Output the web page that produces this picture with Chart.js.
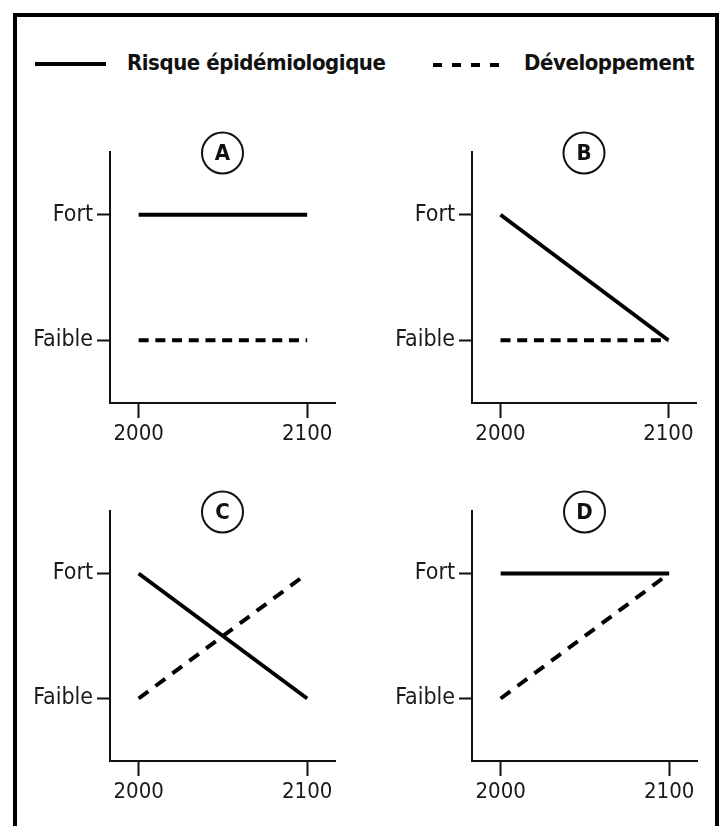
<!DOCTYPE html>
<html>
<head>
<meta charset="utf-8">
<script src="https://cdn.jsdelivr.net/npm/chart.js@4.4.1/dist/chart.umd.min.js"></script>
<style>
  html, body { margin: 0; padding: 0; background: #fff; overflow: hidden; }
  body { width: 725px; height: 826px; position: relative; }
  #frame { position: absolute; left: 13px; top: 13px; width: 698px; height: 900px;
           border-left: 4px solid #000; border-top: 4px solid #000; border-right: 4px solid #000; z-index: 5; }
  canvas { position: absolute; }
  .lg-text { position: absolute; font-family: 'DejaVu Sans Condensed', 'Liberation Sans Narrow', 'Arial Narrow', sans-serif;
             font-weight: bold; font-size: 22px; letter-spacing: -0.45px; color: #111; line-height: 30px; white-space: nowrap; }
  .lg-solid { position: absolute; height: 4px; background: #000; }
  .lg-dash { position: absolute; height: 4px;
             background: repeating-linear-gradient(to right, #000 0 9px, transparent 9px 19px); }
</style>
</head>
<body>
<div id="frame"></div>
<div class="lg-solid" style="left:35px; top:62px; width:71px;"></div>
<div class="lg-text" id="lg1" style="left:127px; top:48px;"></div>
<div class="lg-dash" style="left:433px; top:63px; width:67px;"></div>
<div class="lg-text" id="lg2" style="left:524px; top:48px;"></div>
<canvas id="cA"></canvas>
<canvas id="cB"></canvas>
<canvas id="cC"></canvas>
<canvas id="cD"></canvas>
<script>
// ---- data ----
const years = [2000, 2100];
const levelValues = [0, 1];
const levelLabels = ['Faible', 'Fort'];
const seriesNames = ['Risque épidémiologique', 'Développement'];
const panelLetters = ['A', 'B', 'C', 'D'];
const riskA = [1, 1];
const devA  = [0, 0];
const riskB = [1, 0];
const devB  = [0, 0];
const riskC = [1, 0];
const devC  = [0, 1];
const riskD = [1, 1];
const devD  = [0, 1];

document.getElementById('lg1').textContent = seriesNames[0];
document.getElementById('lg2').textContent = seriesNames[1];

const FONT = "'DejaVu Sans Condensed', 'Liberation Sans Narrow', 'Arial Narrow', sans-serif";

const circleLetter = {
  id: 'circleLetter',
  afterDraw(chart, args, opts) {
    const { ctx, chartArea } = chart;
    const cx = (chartArea.left + chartArea.right) / 2;
    const cy = chartArea.top + 1;
    ctx.save();
    ctx.beginPath();
    ctx.arc(cx, cy, 20.5, 0, Math.PI * 2);
    ctx.lineWidth = 2;
    ctx.strokeStyle = '#111';
    ctx.fillStyle = '#fff';
    ctx.fill();
    ctx.stroke();
    ctx.fillStyle = '#111';
    ctx.font = 'bold 22px ' + FONT;
    ctx.textAlign = 'center';
    ctx.textBaseline = 'middle';
    ctx.fillText(opts.letter, cx, cy + 1);
    ctx.restore();
  }
};

function makePanel(id, letter, risk, dev, area, devDash) {
  const canvas = document.getElementById(id);
  const cLeft = area.left - 90, cTop = area.top - 32;
  const cW = area.colW, cH = 340;
  canvas.width = cW; canvas.height = cH;
  canvas.style.left = cLeft + 'px'; canvas.style.top = cTop + 'px';
  canvas.style.width = cW + 'px'; canvas.style.height = cH + 'px';
  const padRight = cLeft + cW - area.right;
  const xAxisH = cTop + cH - area.bottom;
  new Chart(canvas, {
    type: 'line',
    data: {
      datasets: [
        { label: seriesNames[0], data: years.map((x, i) => ({ x, y: risk[i] })),
          borderColor: '#000', borderWidth: 4, borderCapStyle: 'butt', pointRadius: 0, tension: 0, fill: false },
        { label: seriesNames[1], data: years.map((x, i) => ({ x, y: dev[i] })),
          borderColor: '#000', borderWidth: 4, borderCapStyle: 'butt', borderDash: devDash, pointRadius: 0, tension: 0, fill: false }
      ]
    },
    options: {
      responsive: false,
      animation: false,
      devicePixelRatio: 1,
      layout: { padding: { top: 32, right: padRight, left: 0, bottom: 0 } },
      plugins: {
        legend: { display: false },
        tooltip: { enabled: false },
        title: { display: false },
        circleLetter: { letter }
      },
      scales: {
        x: {
          type: 'linear', min: 1983, max: 2116.5,
          afterBuildTicks: s => { s.ticks = years.map(v => ({ value: v })); },
          afterFit: s => { s.height = xAxisH; },
          grid: { display: true, drawOnChartArea: false, drawTicks: true, tickLength: 15, tickWidth: 2, color: '#111' },
          border: { display: true, color: '#111', width: 2 },
          ticks: { color: '#1a1a1a', padding: 3, maxRotation: 0, autoSkip: false,
                   font: { family: FONT, size: 22, lineHeight: 1.2 }, callback: v => String(v) }
        },
        y: {
          type: 'linear', min: -0.5, max: 1.5,
          afterBuildTicks: s => { s.ticks = levelValues.map(v => ({ value: v })); },
          afterFit: s => { s.width = 90; },
          grid: { display: true, drawOnChartArea: false, drawTicks: true, tickLength: 13, tickWidth: 2, color: '#111' },
          border: { display: true, color: '#111', width: 2 },
          ticks: { color: '#1a1a1a', padding: 4, autoSkip: false,
                   font: { family: FONT, size: 23 },
                   callback: v => levelLabels[levelValues.indexOf(v)] }
        }
      }
    },
    plugins: [circleLetter]
  });
}

makePanel('cA', panelLetters[0], riskA, devA, { left: 110, right: 335, top: 152, bottom: 403, colW: 340 }, [10, 6.7]);
makePanel('cB', panelLetters[1], riskB, devB, { left: 472, right: 696, top: 152, bottom: 403, colW: 330 }, [10, 6.7]);
makePanel('cC', panelLetters[2], riskC, devC, { left: 110, right: 335, top: 511, bottom: 761, colW: 340 }, [12, 9]);
makePanel('cD', panelLetters[3], riskD, devD, { left: 472, right: 697, top: 511, bottom: 761, colW: 330 }, [12, 9]);
</script>
</body>
</html>
